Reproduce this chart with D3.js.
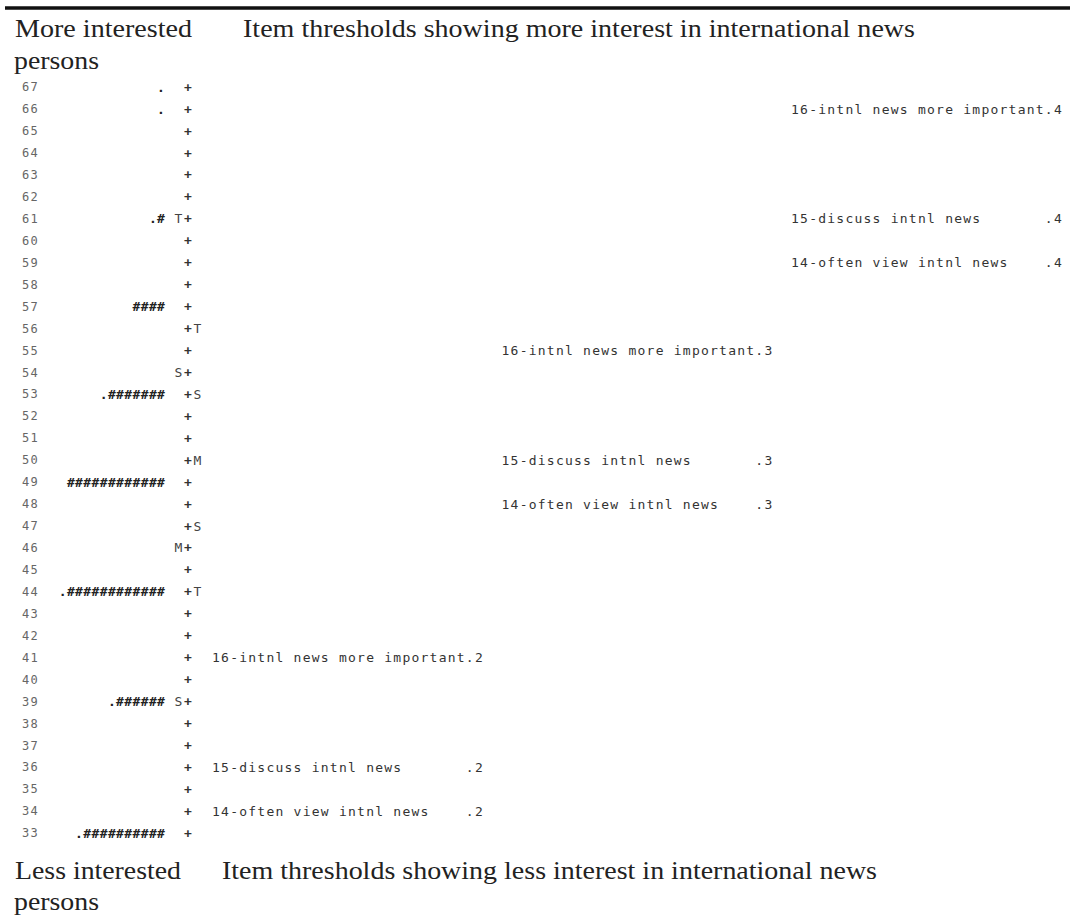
<!DOCTYPE html>
<html>
<head>
<meta charset="utf-8">
<script src="https://cdn.jsdelivr.net/npm/d3@7"></script>
<style>
  body { margin: 0; background: #fff; }
  svg text { white-space: pre; }
</style>
</head>
<body>
<svg id="map"></svg>
<script>
const width = 1070;
const height = 918;

// logit scale levels shown in the map (top to bottom)
const levels = d3.range(67, 32, -1);

// persons: rows that hold people, number of '#' and whether a '.' leads
const personLevels = [67, 66, 61, 57, 53, 49, 44, 39, 33];
const personHashes = [0, 0, 1, 4, 7, 12, 12, 6, 10];
const personDots = [1, 1, 1, 0, 1, 0, 1, 1, 1];

// M / S / T markers, person side and item side
const personMarkerLevels = [61, 54, 46, 39];
const personMarkers = ["T", "S", "M", "S"];
const itemMarkerLevels = [56, 53, 50, 47, 44];
const itemMarkers = ["T", "S", "M", "S", "T"];

// item thresholds
const itemNames = ["16-intnl news more important", "15-discuss intnl news", "14-often view intnl news"];
const thresholds = [".2", ".3", ".4"];
const item16 = [41, 55, 66];
const item15 = [36, 50, 61];
const item14 = [34, 48, 59];
const itemLevels = [item16, item15, item14];

const svg = d3.select("#map")
    .attr("width", width)
    .attr("height", height)
    .attr("viewBox", [0, 0, width, height]);

const y = d3.scaleLinear()
    .domain([33, 67])
    .range([833, 87]);

// threshold columns
const xCol = d3.scalePoint()
    .domain(thresholds)
    .range([212, 791]);

const mono = "'DejaVu Sans Mono', monospace";
const serif = "'Liberation Serif', 'Times New Roman', serif";
const axisX = 188;

// top rule
svg.append("line")
    .attr("x1", 5).attr("x2", width)
    .attr("y1", 8).attr("y2", 8)
    .attr("stroke", "#111")
    .attr("stroke-width", 3.5);

// headings
const headings = [
    { t: "More interested", x: 15, y: 37, w: 177 },
    { t: "persons", x: 14, y: 69, w: 85 },
    { t: "Item thresholds showing more interest in international news", x: 243, y: 37, w: 672 },
    { t: "Less interested", x: 15, y: 879, w: 166 },
    { t: "persons", x: 14, y: 910, w: 85 },
    { t: "Item thresholds showing less interest in international news", x: 222, y: 879, w: 655 }
];
svg.append("g")
    .selectAll("text")
    .data(headings)
    .join("text")
    .attr("x", d => d.x)
    .attr("y", d => d.y)
    .attr("textLength", d => d.w)
    .attr("lengthAdjust", "spacingAndGlyphs")
    .attr("font-family", serif)
    .attr("font-size", "26px")
    .attr("fill", "#222")
    .text(d => d.t);

// row numbers
svg.append("g")
    .selectAll("text")
    .data(levels)
    .join("text")
    .attr("x", 22)
    .attr("y", d => y(d))
    .attr("dy", "0.36em")
    .attr("font-family", mono)
    .attr("font-size", "12px")
    .attr("letter-spacing", "1.2px")
    .attr("fill", "#666")
    .text(d => d);

// the '+' axis
svg.append("g")
    .selectAll("text")
    .data(levels)
    .join("text")
    .attr("x", axisX)
    .attr("y", d => y(d))
    .attr("dy", "0.36em")
    .attr("text-anchor", "middle")
    .attr("font-family", mono)
    .attr("font-size", "13px")
    .attr("font-weight", "bold")
    .attr("fill", "#333")
    .text("+");

// person characters, right aligned against the axis
const personChars = [];
personLevels.forEach((lv, i) => {
    const s = (personDots[i] ? "." : "") + "#".repeat(personHashes[i]);
    const n = s.length;
    s.split("").forEach((c, j) => {
        personChars.push({ level: lv, c: c, x: 161 - (n - 1 - j) * 8.2 });
    });
});
svg.append("g")
    .selectAll("text")
    .data(personChars)
    .join("text")
    .attr("x", d => d.x)
    .attr("y", d => y(d.level))
    .attr("dy", "0.36em")
    .attr("text-anchor", "middle")
    .attr("font-family", mono)
    .attr("font-size", "13px")
    .attr("font-weight", "bold")
    .attr("fill", "#222")
    .text(d => d.c);

// M S T markers
svg.append("g")
    .selectAll("text")
    .data(personMarkerLevels.map((lv, i) => ({ level: lv, m: personMarkers[i], x: axisX - 9.5 }))
        .concat(itemMarkerLevels.map((lv, i) => ({ level: lv, m: itemMarkers[i], x: axisX + 9.5 }))))
    .join("text")
    .attr("x", d => d.x)
    .attr("y", d => y(d.level))
    .attr("dy", "0.36em")
    .attr("text-anchor", "middle")
    .attr("font-family", mono)
    .attr("font-size", "13px")
    .attr("fill", "#444")
    .text(d => d.m);

// item threshold labels
const labels = [];
itemNames.forEach((name, i) => {
    thresholds.forEach((th, k) => {
        labels.push({ level: itemLevels[i][k], th: th, t: name.padEnd(28, " ") + th });
    });
});
svg.append("g")
    .selectAll("text")
    .data(labels)
    .join("text")
    .attr("x", d => xCol(d.th))
    .attr("y", d => y(d.level))
    .attr("dy", "0.36em")
    .attr("font-family", mono)
    .attr("font-size", "13px")
    .attr("letter-spacing", "1.24px")
    .attr("fill", "#333")
    .text(d => d.t);
</script>
</body>
</html>
